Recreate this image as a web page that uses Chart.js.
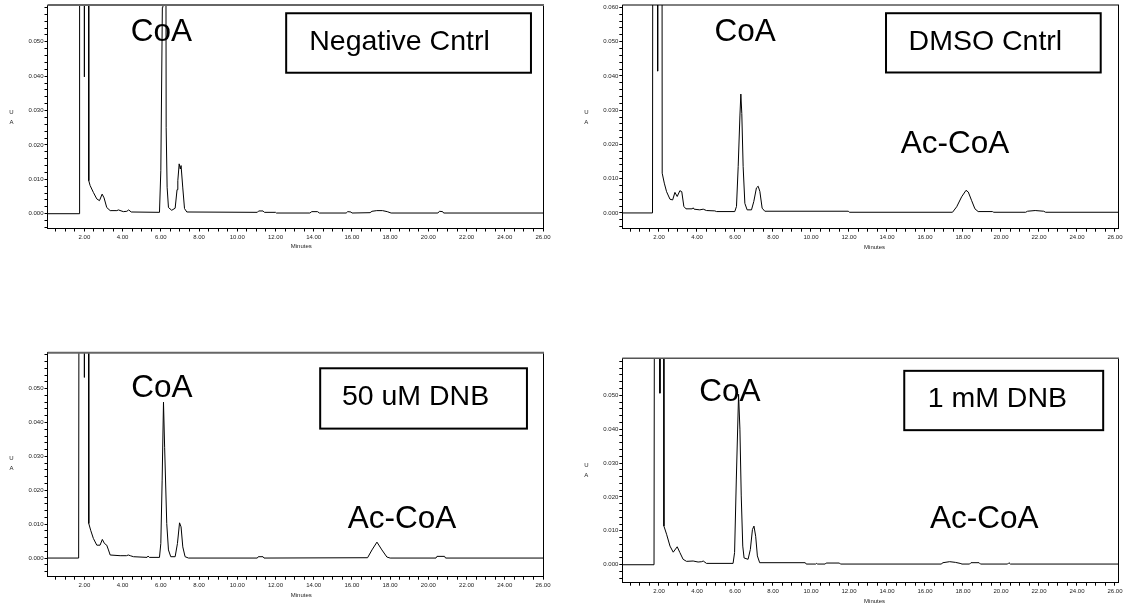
<!DOCTYPE html>
<html>
<head>
<meta charset="utf-8">
<script src="https://cdn.jsdelivr.net/npm/chart.js@4.4.1/dist/chart.umd.min.js"></script>
<style>
  body { margin: 0; background: #fff; width: 1125px; height: 608px; overflow: hidden; position: relative; }
  canvas { position: absolute; }
</style>
</head>
<body>
<canvas id="negChart" width="562" height="300" style="left:0;top:0"></canvas>
<canvas id="dmsoChart" width="563" height="300" style="left:562px;top:0"></canvas>
<canvas id="dnb50Chart" width="562" height="308" style="left:0;top:300px"></canvas>
<canvas id="dnb1Chart" width="563" height="308" style="left:562px;top:300px"></canvas>
<script>
const FONT = '"Liberation Sans", Arial, sans-serif';

// tick labels
const xTickLabels = ["2.00", "4.00", "6.00", "8.00", "10.00", "12.00", "14.00", "16.00", "18.00", "20.00", "22.00", "24.00", "26.00"];
const yTickLabels = ["0.000", "0.010", "0.020", "0.030", "0.040", "0.050"];
const yTopLabel = "0.060";
const X_MINOR = 0.5;
const Y_MINOR = 0.002;

const panelNames = ["Negative Cntrl", "DMSO Cntrl", "50 uM DNB", "1 mM DNB"];
const peakNames = ["CoA", "Ac-CoA"];

// off-scale peaks are given a nominal 0.25 AU (they run past the top of the plot)
const negTime = [0, 1.72, 1.75, 1.96, 2.00, 2.04, 2.19, 2.23, 2.30, 2.47, 2.65, 2.79, 2.93, 3.03, 3.17, 3.35, 3.70, 3.78, 4.04, 4.22, 4.32, 4.45,
  5.93, 6.00, 6.08, 6.11, 6.23, 6.28, 6.33, 6.40, 6.57, 6.75, 6.85, 6.89, 6.96, 7.02, 7.06, 7.15, 7.24, 7.36,
  11.05, 11.12, 11.35, 11.42, 12.00, 12.05, 13.80, 13.90, 14.20, 14.30, 15.70, 15.78, 15.95, 16.00,
  16.95, 17.05, 17.30, 17.60, 17.85, 18.05, 20.50, 20.58, 20.75, 20.80, 26.0];
const negAU = [0, 0, 0.25, 0.25, 0.0398, 0.25, 0.25, 0.0096, 0.0082, 0.0062, 0.0043, 0.0038, 0.0057, 0.0046, 0.0018, 0.0009, 0.0009, 0.0011, 0.0006, 0.0007, 0.0011, 0.0005,
  0.0004, 0.0125, 0.06, 0.22, 0.22, 0.025, 0.0077, 0.0018, 0.0010, 0.0016, 0.0070, 0.0096, 0.0145, 0.0130, 0.0140, 0.0075, 0.0015, 0.0005,
  0.0004, 0.0008, 0.0008, 0.0004, 0.0004, 0.0002, 0.0002, 0.0006, 0.0006, 0.0002, 0.0002, 0.0006, 0.0005, 0.0002,
  0.0003, 0.0007, 0.0009, 0.0009, 0.0006, 0.0002, 0.0002, 0.0007, 0.0006, 0.0002, 0.0002];

const dmsoTime = [0, 1.66, 1.70, 1.90, 1.93, 1.97, 2.14, 2.17, 2.28, 2.40, 2.58, 2.72, 2.84, 2.96, 3.10, 3.20, 3.31, 3.42, 3.75, 3.80, 3.85, 4.15, 4.33, 4.50, 4.94, 5.03,
  5.99, 6.08, 6.17, 6.26, 6.31, 6.36, 6.43, 6.52, 6.64, 6.87, 6.99, 7.13, 7.22, 7.31, 7.43, 7.57,
  11.97, 12.02, 17.45, 17.67, 17.93, 18.16, 18.28, 18.45, 18.63, 18.80, 19.55, 19.62, 21.30, 21.40, 21.80, 22.25, 22.35, 26.2];
const dmsoAU = [0, 0, 0.25, 0.25, 0.0414, 0.25, 0.25, 0.0116, 0.0087, 0.0062, 0.0040, 0.0038, 0.0060, 0.0048, 0.0065, 0.0062, 0.0019, 0.0012, 0.0012, 0.0015, 0.0011, 0.0009, 0.0011, 0.0007, 0.0006, 0.0004,
  0.0004, 0.0019, 0.0136, 0.0283, 0.0347, 0.0290, 0.0136, 0.0028, 0.0009, 0.0009, 0.0033, 0.0073, 0.0078, 0.0063, 0.0014, 0.0005,
  0.0005, 0.0002, 0.0002, 0.0018, 0.0047, 0.0066, 0.0061, 0.0037, 0.0012, 0.0004, 0.0004, 0.0002, 0.0002, 0.0005, 0.0007, 0.0005, 0.0002, 0.0002];

const dnb50Time = [0, 1.70, 1.75, 1.96, 2.00, 2.04, 2.19, 2.23, 2.33, 2.47, 2.65, 2.82, 2.94, 3.05, 3.17, 3.26, 3.35, 3.87, 4.20, 4.30, 4.40, 4.57, 5.28, 5.33, 5.40,
  5.93, 6.00, 6.07, 6.14, 6.20, 6.31, 6.40, 6.52, 6.75, 6.87, 6.98, 7.06, 7.15, 7.27, 7.45,
  11.05, 11.10, 11.35, 11.40, 16.82, 17.05, 17.31, 17.57, 17.83, 18.00, 20.40, 20.45, 20.85, 20.90, 26.0];
const dnb50AU = [0, 0, 0.25, 0.25, 0.0533, 0.25, 0.25, 0.0102, 0.0082, 0.0058, 0.0038, 0.0038, 0.0055, 0.0043, 0.0038, 0.0024, 0.0009, 0.0007, 0.0007, 0.0009, 0.0007, 0.0004, 0.0002, 0.0006, 0.0002,
  0.0002, 0.0043, 0.0230, 0.0460, 0.0327, 0.0102, 0.0024, 0.0004, 0.0004, 0.0043, 0.0104, 0.0092, 0.0033, 0.0004, 0,
  0, 0.0004, 0.0004, 0, 0.0001, 0.0024, 0.0047, 0.0024, 0.0003, 0, 0, 0.0005, 0.0005, 0, 0];

const dnb1Time = [0, 1.74, 1.80, 2.02, 2.05, 2.08, 2.23, 2.26, 2.40, 2.58, 2.75, 2.96, 3.10, 3.27, 3.45, 3.80, 4.06, 4.25, 4.33, 4.50,
  5.90, 5.98, 6.07, 6.19, 6.26, 6.33, 6.41, 6.48, 6.69, 6.81, 6.92, 7.00, 7.09, 7.18, 7.30,
  9.70, 9.75, 10.25, 10.30, 10.35, 10.75, 10.80, 11.50, 11.55, 16.85, 16.95, 17.30, 17.60, 17.85, 17.95,
  18.35, 18.42, 18.85, 18.92, 20.35, 20.42, 20.50, 26.2];
const dnb1AU = [0, 0, 0.25, 0.25, 0.0506, 0.25, 0.25, 0.0114, 0.0090, 0.0055, 0.0037, 0.0053, 0.0036, 0.0016, 0.0010, 0.0011, 0.0008, 0.0009, 0.0011, 0.0004,
  0.0004, 0.0036, 0.0250, 0.0503, 0.0400, 0.0203, 0.0055, 0.0020, 0.0016, 0.0045, 0.0104, 0.0114, 0.0084, 0.0026, 0.0006,
  0.0006, 0.0002, 0.0002, 0.0004, 0.0002, 0.0002, 0.0005, 0.0005, 0.0002, 0.0002, 0.0006, 0.0009, 0.0007, 0.0004, 0.0002,
  0.0002, 0.0006, 0.0006, 0.0002, 0.0002, 0.0006, 0.0002, 0.0002];

function labelFor(list, v) {
  const hit = list.find(l => Math.abs(parseFloat(l) - v) < 1e-9);
  return hit || "";
}

function overlay(p) {
  return {
    id: "overlay",
    afterDatasetsDraw(chart) {
      const { ctx, chartArea: a, scales } = chart;
      const px = t => scales.x.getPixelForValue(t);
      const py = v => scales.y.getPixelForValue(v);
      ctx.save();
      // frame, right and top
      ctx.strokeStyle = "#000";
      ctx.lineWidth = 1;
      ctx.beginPath();
      ctx.moveTo(a.right + 0.5, a.top);
      ctx.lineTo(a.right + 0.5, a.bottom);
      ctx.stroke();
      ctx.strokeStyle = p.topColor;
      ctx.lineWidth = p.topWidth;
      ctx.beginPath();
      ctx.moveTo(a.left, a.top);
      ctx.lineTo(a.right + 1, a.top);
      ctx.stroke();

      // sample box
      const b = p.box;
      ctx.strokeStyle = "#000";
      ctx.lineWidth = 2;
      ctx.strokeRect(px(b.t0), py(b.v0), px(b.t1) - px(b.t0), py(b.v1) - py(b.v0));
      ctx.fillStyle = "#000";
      ctx.textAlign = "center";
      ctx.textBaseline = "alphabetic";
      ctx.font = "28.5px " + FONT;
      ctx.fillText(p.name, px(b.tt), py(b.vt));

      // peak names
      ctx.font = "31.5px " + FONT;
      p.peaks.forEach(k => ctx.fillText(k.text, px(k.t), py(k.v)));

      // axis titles
      ctx.font = "6px " + FONT;
      ctx.fillStyle = "#222";
      ctx.textBaseline = "middle";
      ctx.fillText("Minutes", px(13.35), a.bottom + 18.3);
      ctx.fillText("U", a.left - 36, py(0.0294));
      ctx.fillText("A", a.left - 36, py(0.0294) + 10);
      ctx.restore();
    }
  };
}

function makeChart(id, p) {
  const points = p.time.map((t, i) => ({ x: t, y: p.au[i] }));
  const xTicks = [];
  for (let v = X_MINOR; v <= p.xMax + 1e-9; v += X_MINOR) xTicks.push({ value: +v.toFixed(2) });
  const yTicks = [];
  for (let v = -0.004; v <= p.yMax + 1e-9; v += Y_MINOR) yTicks.push({ value: +v.toFixed(3) });
  const yLabels = p.showTop ? yTickLabels.concat([yTopLabel]) : yTickLabels;

  return new Chart(id, {
    type: "line",
    data: {
      datasets: [{
        data: points,
        borderColor: "#000",
        borderWidth: 1,
        pointRadius: 0,
        tension: 0,
        fill: false,
      }],
    },
    options: {
      responsive: false,
      animation: false,
      devicePixelRatio: 1,
      events: [],
      layout: { padding: { left: 0, top: p.padTop, right: p.padRight, bottom: p.padBottom } },
      plugins: { legend: { display: false }, tooltip: { enabled: false } },
      scales: {
        x: {
          type: "linear",
          min: p.xMin,
          max: p.xMax,
          afterBuildTicks: s => { s.ticks = xTicks; },
          afterFit: s => { s.height = 20; },
          ticks: {
            autoSkip: false,
            maxRotation: 0,
            padding: 2,
            color: "#222",
            font: { size: 6, family: FONT },
            callback: v => labelFor(xTickLabels, v),
          },
          grid: { drawOnChartArea: false, tickLength: 3, color: "#000" },
          border: { color: "#000", width: 1 },
        },
        y: {
          min: p.yMin,
          max: p.yMax,
          afterBuildTicks: s => { s.ticks = yTicks; },
          afterFit: s => { s.width = p.yWidth; },
          ticks: {
            autoSkip: false,
            padding: 1,
            color: "#222",
            font: { size: 6, family: FONT },
            callback: v => labelFor(yLabels, v),
          },
          grid: { drawOnChartArea: false, tickLength: 3, color: "#000" },
          border: { color: "#000", width: 1 },
        },
      },
    },
    plugins: [overlay(p)],
  });
}

makeChart("negChart", {
  time: negTime, au: negAU, name: panelNames[0],
  xMin: 0.07, xMax: 26.0, yMin: -0.0043, yMax: 0.0607, showTop: false,
  yWidth: 47.5, padTop: 5, padRight: 19, padBottom: 51.5,
  topColor: "#666", topWidth: 2,
  box: { t0: 12.56, v0: 0.0583, t1: 25.37, v1: 0.0410, tt: 18.49, vt: 0.0476 },
  peaks: [{ text: peakNames[0], t: 6.03, v: 0.0503 }],
});

makeChart("dmsoChart", {
  time: dmsoTime, au: dmsoAU, name: panelNames[1],
  xMin: 0.07, xMax: 26.16, yMin: -0.0046, yMax: 0.0607, showTop: true,
  yWidth: 60.3, padTop: 5, padRight: 7, padBottom: 51.3,
  topColor: "#000", topWidth: 1,
  box: { t0: 13.95, v0: 0.0583, t1: 25.25, v1: 0.0410, tt: 19.18, vt: 0.0476 },
  peaks: [{ text: peakNames[0], t: 6.53, v: 0.0503 }, { text: peakNames[1], t: 17.58, v: 0.0176 }],
});

makeChart("dnb50Chart", {
  time: dnb50Time, au: dnb50AU, name: panelNames[2],
  xMin: 0.07, xMax: 26.0, yMin: -0.0055, yMax: 0.0606, showTop: false,
  yWidth: 47.5, padTop: 52.7, padRight: 19, padBottom: 11.3,
  topColor: "#666", topWidth: 2,
  box: { t0: 14.34, v0: 0.0560, t1: 25.16, v1: 0.0382, tt: 19.33, vt: 0.0451 },
  peaks: [{ text: peakNames[0], t: 6.05, v: 0.0476 }, { text: peakNames[1], t: 18.62, v: 0.0088 }],
});

makeChart("dnb1Chart", {
  time: dnb1Time, au: dnb1AU, name: panelNames[3],
  xMin: 0.07, xMax: 26.16, yMin: -0.0053, yMax: 0.0609, showTop: false,
  yWidth: 60.3, padTop: 58.3, padRight: 7, padBottom: 5.3,
  topColor: "#555", topWidth: 1.5,
  box: { t0: 14.91, v0: 0.0572, t1: 25.38, v1: 0.0397, tt: 19.81, vt: 0.0464 },
  peaks: [{ text: peakNames[0], t: 5.73, v: 0.0484 }, { text: peakNames[1], t: 19.12, v: 0.0107 }],
});
</script>
</body>
</html>
